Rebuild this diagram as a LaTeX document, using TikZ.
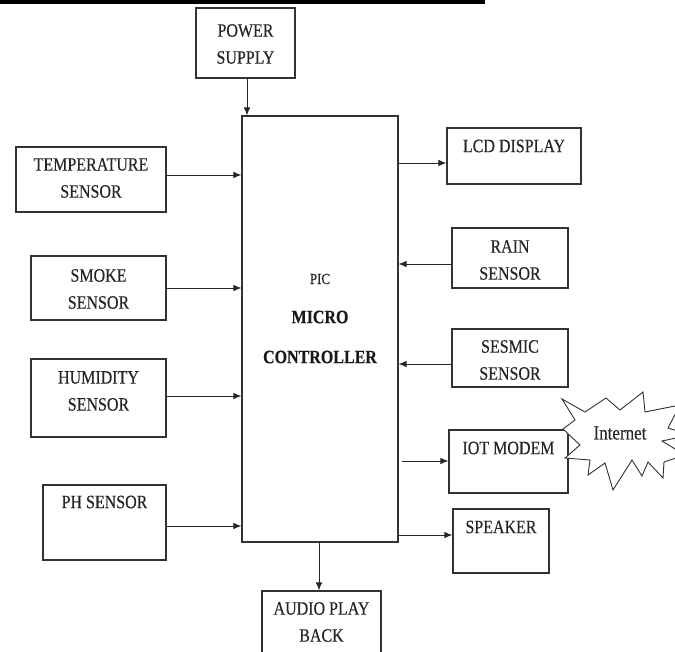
\documentclass[tikz,border=0pt]{standalone}
\usepackage{fontspec}
\setmainfont{Liberation Serif}[FakeBold=0.35]
\newfontfamily\boldserif{Liberation Serif Bold}[FakeBold=0.3]
\usetikzlibrary{arrows.meta}
\newcommand{\tl}[1]{\scalebox{1}[1.18]{#1}}
\begin{document}
\begin{tikzpicture}[x=1pt,y=-1pt,
  blk/.style={draw=black!80,line width=1.1pt,inner sep=0pt},
  lbl/.style={font=\fontsize{16}{27}\selectfont,text=black!85,inner sep=0pt,align=center},
  arr/.style={draw=black!85,line width=1pt,-{Latex[length=8pt,width=6.5pt]}}]
\clip (0,0) rectangle (675,651);
\fill[white] (0,0) rectangle (675,651);
\fill[black] (0,0) rectangle (485,4);
% boxes
\node[blk,minimum width=99pt,minimum height=70pt] (pwr) at (245.5,43) {};
\node[blk,minimum width=156pt,minimum height=426pt] (mc) at (320,329) {};
\node[blk,minimum width=150pt,minimum height=65pt] (temp) at (91,179.5) {};
\node[blk,minimum width=135pt,minimum height=64pt] (smoke) at (98.5,288) {};
\node[blk,minimum width=135pt,minimum height=78pt] (hum) at (98.5,398) {};
\node[blk,minimum width=123pt,minimum height=75pt] (ph) at (104.5,522.5) {};
\node[blk,minimum width=134pt,minimum height=56pt] (lcd) at (514,156) {};
\node[blk,minimum width=116pt,minimum height=60pt] (rain) at (510,258) {};
\node[blk,minimum width=116pt,minimum height=58pt] (ses) at (510,358) {};
\node[blk,minimum width=119pt,minimum height=63pt] (iot) at (508.5,461.5) {};
\node[blk,minimum width=96pt,minimum height=64pt] (spk) at (501,541) {};
\node[blk,minimum width=119pt,minimum height=70pt] (aud) at (321.5,626) {};
% labels
\node[lbl] (tpwr) at (245.5,44) {\tl{POWER}\\\tl{SUPPLY}};
\node[lbl] (ttemp) at (91,178) {\tl{TEMPERATURE}\\\tl{SENSOR}};
\node[lbl] (tsmoke) at (98.5,289) {\tl{SMOKE}\\\tl{SENSOR}};
\node[lbl] (thum) at (98.5,391) {\tl{HUMIDITY}\\\tl{SENSOR}};
\node[lbl] (tph) at (104.5,502) {\tl{PH SENSOR}};
\node[lbl] (tlcd) at (514,146) {\tl{LCD DISPLAY}};
\node[lbl] (train) at (510,260) {\tl{RAIN}\\\tl{SENSOR}};
\node[lbl] (tses) at (510,360) {\tl{SESMIC}\\\tl{SENSOR}};
\node[lbl] (tiot) at (508.5,448) {\tl{IOT MODEM}};
\node[lbl] (tspk) at (501,527) {\tl{SPEAKER}};
\node[lbl] (taud) at (321.5,622) {\tl{AUDIO PLAY}\\\tl{BACK}};
\node[inner sep=0pt,text=black!85,font=\fontsize{13}{15}\selectfont] (tpic) at (320,279) {\tl{PIC}};
\node[inner sep=0pt,text=black!90,font=\fontsize{16}{18}\boldserif] (tmicro) at (320,317) {\tl{MICRO}};
\node[inner sep=0pt,text=black!90,font=\fontsize{16}{18}\boldserif] (tctrl) at (320,357) {\tl{CONTROLLER}};
% internet burst
\draw[draw=black!80,line width=0.9pt,fill=white]
 (563,429) -- (575,420) -- (562,399) -- (585,412) -- (606,398) -- (620,410)
 -- (643,392) -- (645,412) -- (680,405) -- (668,428) -- (690,435) -- (662,441)
 -- (685,455) -- (664,462) -- (663,478) -- (648,462) -- (642,476) -- (632,460)
 -- (613,490) -- (605,463) -- (588,475) -- (590,460) -- (565,458) -- (580,445) -- cycle;
\node[inner sep=0pt,text=black!85,font=\fontsize{17}{20}\selectfont] (tnet) at (620,433) {\tl{Internet}};
% arrows
\draw[arr] (pwr.south -| 247,0) -- (mc.north -| 247,0);
\draw[arr] (temp.east |- 0,175) -- (mc.west |- 0,175);
\draw[arr] (smoke.east |- 0,288) -- (mc.west |- 0,288);
\draw[arr] (hum.east |- 0,396) -- (mc.west |- 0,396);
\draw[arr] (ph.east |- 0,526) -- (mc.west |- 0,526);
\draw[arr] (mc.east |- 0,163) -- (lcd.west |- 0,163);
\draw[arr] (rain.west |- 0,264) -- (mc.east |- 0,264);
\draw[arr] (ses.west |- 0,364) -- (mc.east |- 0,364);
\draw[arr] ([xshift=3pt]mc.east |- 0,461) -- (iot.west |- 0,461);
\draw[arr] (mc.east |- 0,535) -- (spk.west |- 0,535);
\draw[arr] (mc.south -| 319,0) -- (aud.north -| 319,0);
\end{tikzpicture}
\end{document}
